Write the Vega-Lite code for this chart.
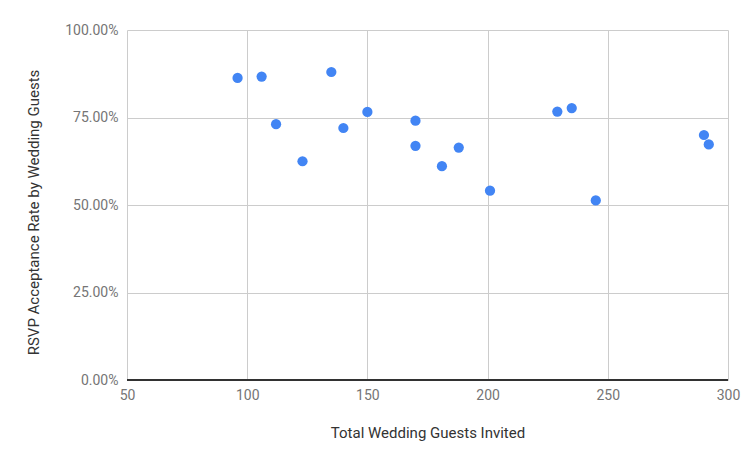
{
  "$schema": "https://vega.github.io/schema/vega-lite/v6.json",
  "width": 601,
  "height": 350,
  "autosize": "none",
  "padding": {"left": 127, "top": 30, "right": 23, "bottom": 83},
  "background": "white",
  "config": {
    "view": {"stroke": null},
    "font": "Roboto"
  },
  "data": {
    "values": [
      {"guests": 96, "rate": 0.863},
      {"guests": 106, "rate": 0.867},
      {"guests": 112, "rate": 0.731},
      {"guests": 123, "rate": 0.625},
      {"guests": 135, "rate": 0.880},
      {"guests": 140, "rate": 0.720},
      {"guests": 150, "rate": 0.766},
      {"guests": 170, "rate": 0.741},
      {"guests": 170, "rate": 0.669},
      {"guests": 181, "rate": 0.611},
      {"guests": 188, "rate": 0.664},
      {"guests": 201, "rate": 0.541},
      {"guests": 229, "rate": 0.767},
      {"guests": 235, "rate": 0.777},
      {"guests": 245, "rate": 0.513},
      {"guests": 290, "rate": 0.700},
      {"guests": 292, "rate": 0.673}
    ]
  },
  "layer": [
    {
      "mark": {"type": "rule", "color": "#333333", "strokeWidth": 1},
      "encoding": {"y": {"datum": 0, "type": "quantitative", "scale": {"domain": [0, 1]}}}
    },
    {
      "mark": {"type": "point", "filled": true, "opacity": 1, "color": "#4285F4", "size": 105},
      "encoding": {
        "x": {
          "field": "guests",
          "type": "quantitative",
          "scale": {"domain": [50, 300], "nice": false, "zero": false},
          "axis": {
            "values": [50, 100, 150, 200, 250, 300],
            "title": "Total Wedding Guests Invited",
            "titleFont": "Roboto",
            "titleFontSize": 15,
            "titleFontWeight": "normal",
            "titleColor": "#333333",
            "titlePadding": 23,
            "labelFont": "Roboto",
            "labelFontSize": 14,
            "labelColor": "#757575",
            "labelPadding": 8,
            "labelFlush": false,
            "ticks": false,
            "domain": false,
            "grid": true,
            "gridColor": "#cccccc"
          }
        },
        "y": {
          "field": "rate",
          "type": "quantitative",
          "scale": {"domain": [0, 1], "nice": false},
          "axis": {
            "values": [0, 0.25, 0.5, 0.75, 1],
            "format": ".2%",
            "title": "RSVP Acceptance Rate by Wedding Guests",
            "titleFont": "Roboto",
            "titleFontSize": 15,
            "titleFontWeight": "normal",
            "titleColor": "#333333",
            "titlePadding": 23,
            "titleY": 182,
            "labelFont": "Roboto",
            "labelFontSize": 14,
            "labelColor": "#757575",
            "labelPadding": 9,
            "ticks": false,
            "domain": false,
            "grid": true,
            "gridColor": "#cccccc"
          }
        }
      }
    }
  ]
}
